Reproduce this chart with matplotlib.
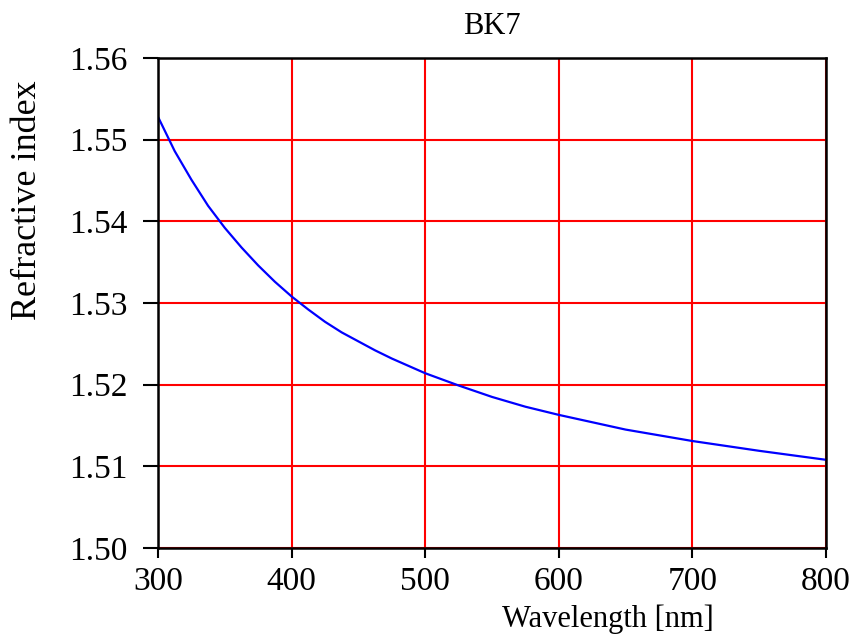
import matplotlib
matplotlib.use("Agg")
import matplotlib.pyplot as plt

# values
wavelength = [300, 312.5, 325, 337.5, 350, 362.5, 375, 387.5, 400, 412.5, 425, 437.5,
              450, 462.5, 475, 500, 525, 550, 575, 600, 650, 700, 750, 800]
index = [1.5528, 1.5486, 1.5451, 1.5419, 1.5392, 1.5368, 1.5346, 1.5326, 1.5308,
         1.5292, 1.5277, 1.5264, 1.5253, 1.5242, 1.5232, 1.5214, 1.5199, 1.5185,
         1.5173, 1.5163, 1.5145, 1.5131, 1.5119, 1.5108]

x_ticks = [300, 400, 500, 600, 700, 800]
y_ticks = [1.50, 1.51, 1.52, 1.53, 1.54, 1.55, 1.56]

plt.rcParams["font.family"] = ["Liberation Serif", "DejaVu Serif"]

W, H = 853, 642
fig = plt.figure(figsize=(W / 100, H / 100), dpi=100)
ax = fig.add_axes([158 / W, 1 - 548 / H, (826 - 158) / W, (548 - 58) / H])

ax.plot(wavelength, index, color="blue", linewidth=1.6)
ax.set_xlim(300, 800)
ax.set_ylim(1.50, 1.56)
ax.set_xticks(x_ticks)
ax.set_yticks(y_ticks)
ax.set_yticklabels([f"{v:.2f}" for v in y_ticks])
ax.grid(True, color="red", linewidth=1.5)
ax.set_axisbelow(True)

for spine in ax.spines.values():
    spine.set_linewidth(1.8)
    spine.set_color("black")
ax.tick_params(axis="x", direction="out", length=7, width=1.5, labelsize=24, pad=6)
ax.tick_params(axis="y", direction="out", length=11, width=1.5, labelsize=24, pad=11)

ax.set_title("BK7", fontsize=22, pad=17)
fig.text(28 / W, 1 - 200 / H, "Refractive index", fontsize=26, rotation=90,
         ha="center", va="center")
fig.text(608 / W, 1 - 627 / H, "Wavelength [nm]", fontsize=22,
         ha="center", va="baseline")

fig.savefig("out.png", dpi=100)
